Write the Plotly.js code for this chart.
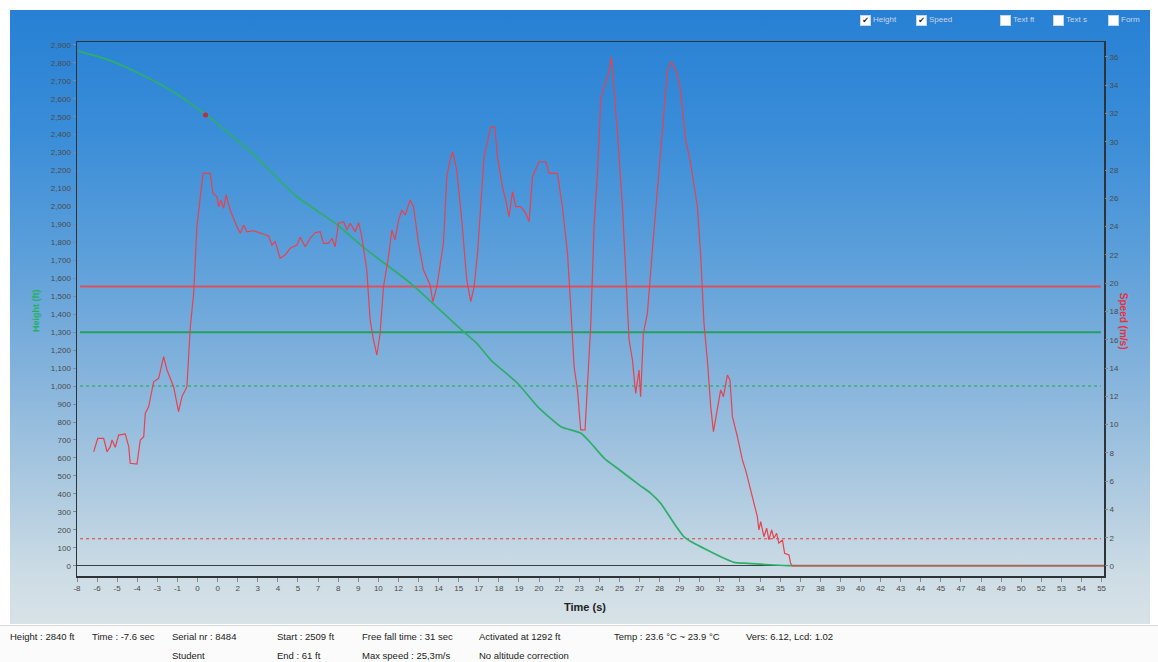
<!DOCTYPE html>
<html>
<head>
<meta charset="utf-8">
<script src="https://cdn.plot.ly/plotly-3.0.1.min.js"></script>
<style>
  html, body { margin:0; padding:0; background:#ffffff; }
  #wrap { position:relative; width:1158px; height:662px; overflow:hidden; background:#ffffff; }
  #grad { position:absolute; left:10px; top:10px; width:1140px; height:614px;
          background: linear-gradient(to bottom, #2780d4 0%, #3a8dd8 20%, #5c9fda 40%, #86b4dc 60%, #adcae0 78%, #cddce5 92%, #d8e2e7 100%); }
  #plot { position:absolute; left:0; top:0; width:1158px; height:662px; }
  .cb { position:absolute; top:15px; width:9px; height:9px; background:#fff; border:1px solid #c9d6e6; font:bold 8px 'DejaVu Sans', sans-serif; line-height:9px; text-align:center; color:#222; }
  .cbl { position:absolute; top:15px; font:8px 'Liberation Sans', Arial, sans-serif; color:#c8d6e8; }
  .st { position:absolute; font:9.5px 'Liberation Sans', Arial, sans-serif; color:#222; white-space:nowrap; }
  #bar { position:absolute; left:0; top:625px; width:1158px; height:37px; background:#fbfbfb; border-top:1px solid #d8d8d8; }
</style>
</head>
<body>
<div id="wrap">
  <div id="grad"></div>
  <div id="plot"></div>
  <div id="bar"></div>
</div>
<script>
// ---- Data ----
// Speed (m/s) vs time (s)
const speedTime = [-6.96,-6.71,-6.34,-6.13,-5.93,-5.82,-5.62,-5.41,-5.00,-4.78,-4.69,-4.27,-4.06,-3.85,-3.75,-3.54,-3.23,-2.92,-2.61,-2.40,-1.99,-1.68,-1.47,-1.16,-0.95,-0.74,-0.54,-0.16,0.29,0.46,0.71,0.81,0.96,1.12,1.28,1.53,1.95,2.16,2.37,2.57,2.99,3.50,3.92,4.13,4.33,4.64,4.95,5.26,5.68,5.89,6.20,6.51,6.82,7.13,7.34,7.65,7.86,8.06,8.27,8.59,8.79,9.00,9.31,9.52,9.72,10.03,10.24,10.45,10.66,10.86,11.07,11.38,11.59,11.79,12.01,12.21,12.42,12.73,12.94,13.25,13.56,13.97,14.14,14.39,14.80,15.01,15.21,15.38,15.63,15.94,16.25,16.50,16.71,16.92,17.33,17.75,18.00,18.16,18.47,18.68,18.88,19.10,19.30,19.61,19.92,20.13,20.34,20.75,21.17,21.37,21.89,22.20,22.52,22.72,22.93,23.14,23.34,23.61,23.76,23.97,24.17,24.38,24.59,24.79,25.00,25.10,25.25,25.38,25.63,25.94,26.14,26.35,26.56,26.76,26.97,27.07,27.24,27.49,27.80,28.11,28.42,28.74,28.98,29.25,29.52,29.87,30.18,30.60,30.81,31.01,31.22,31.43,31.60,31.84,32.05,32.22,32.47,32.63,32.78,33.09,33.40,33.60,33.81,34.12,34.33,34.43,34.54,34.74,34.91,35.05,35.22,35.36,35.53,35.67,35.89,36.03,36.30,36.40,36.51,55.9];
const speedValues = [8.08,9.03,9.03,8.08,8.44,8.91,8.39,9.26,9.34,8.44,7.26,7.21,8.91,9.14,10.80,11.27,13.03,13.27,14.80,13.86,12.68,10.91,11.97,12.68,16.92,19.29,24.0,27.77,27.77,26.36,26.12,25.41,25.88,25.30,26.24,25.18,24.0,23.53,24.12,23.64,23.71,23.53,23.34,22.70,22.94,21.76,21.99,22.47,22.70,23.25,22.58,23.18,23.57,23.64,22.82,22.82,23.18,22.58,24.24,24.35,23.76,24.24,23.64,24.28,23.29,20.93,17.40,15.98,14.92,16.46,19.75,21.87,23.76,23.06,24.47,25.18,24.82,25.88,25.41,22.82,20.93,19.87,18.69,19.75,22.82,27.53,28.71,29.28,28.0,24.47,20.23,18.69,19.75,22.11,28.95,31.07,31.03,28.95,26.82,25.88,24.70,26.47,25.41,25.41,24.94,24.35,27.53,28.59,28.59,27.77,27.77,25.41,22.11,18.34,14.09,12.45,9.62,9.62,12.45,17.16,24.0,27.77,32.96,33.90,34.60,34.84,36.02,34.14,30.60,25.41,20.23,15.98,14.57,12.21,13.86,11.97,16.46,17.87,22.35,26.59,31.31,35.08,35.66,35.08,33.90,30.13,28.48,25.41,21.87,17.16,14.57,11.27,9.50,11.03,12.45,11.97,13.51,13.15,10.56,9.14,7.50,6.79,5.85,4.43,3.49,2.55,3.13,2.07,2.67,1.84,2.55,1.96,2.31,1.61,1.84,0.90,0.78,0.19,0,0];

// Height (ft) vs time (s)
const heightTime = [-7.9,-6.0,-4.0,-2.0,-0.10,1.58,2.99,5.6,8.17,9.83,12.73,16.05,16.88,17.75,19.41,20.66,22.11,23.36,23.98,24.81,25.76,27.00,27.70,28.32,29.15,29.77,30.39,31.22,32.05,32.88,33.71,35.35,36.40,55.9];
const heightValues = [2865,2815,2735,2638,2520,2398,2290,2060,1900,1772,1575,1303,1238,1145,1016,886,774,737,682,598,533,449,403,347,236,161,125,87,50,19,13,4,0,0];

// Start marker
const startTime = [0];
const startHeight = [2509];

// Reference altitude lines (ft)
const redSolidLine = 1555;
const greenSolidLine = 1300;
const greenDottedLine = 1000;
const redDottedLine = 150;

// X tick labels as printed
const xTickText = ["-8","-6","-5","-4","-3","-1","0","0","2","3","4","5","7","8","9","10","12","13","14","15","17","18","19","20","22","23","24","25","27","28","29","30","32","33","34","35","37","38","39","40","42","43","44","45","47","48","49","50","52","53","54","55"];
const xTickStart = -8, xTickStep = 1.25;
const xTickVals = xTickText.map((_, i) => xTickStart + i * xTickStep);

// Status bar texts
const statusItems = [
  ["Height : 2840 ft", 10, 631], ["Time : -7.6 sec", 92, 631],
  ["Serial nr : 8484", 172, 631], ["Student", 172, 650],
  ["Start : 2509 ft", 277, 631], ["End : 61 ft", 277, 650],
  ["Free fall time : 31 sec", 362, 631], ["Max speed : 25,3m/s", 362, 650],
  ["Activated at 1292 ft", 479, 631], ["No altitude correction", 479, 650],
  ["Temp : 23.6 °C ~  23.9 °C", 614, 631], ["Vers: 6.12, Lcd: 1.02", 746, 631]
];
const checkItems = [["Height", true, 860], ["Speed", true, 916], ["Text ft", false, 1000], ["Text s", false, 1053], ["Form", false, 1108]];

// ---- Chart ----
const FONT = 'Liberation Sans, Arial, sans-serif';
const tickFont = {family: FONT, size: 8, color: '#4a4a4a'};

const traces = [
  {x: heightTime, y: heightValues, type: 'scatter', mode: 'lines', yaxis: 'y',
   line: {color: '#2fae6a', width: 1.7, shape: 'spline', smoothing: 0.5}, hoverinfo: 'skip', showlegend: false},
  {x: speedTime, y: speedValues, type: 'scatter', mode: 'lines', yaxis: 'y2',
   line: {color: '#e8424e', width: 1.2}, hoverinfo: 'skip', showlegend: false},
  {x: startTime, y: startHeight, type: 'scatter', mode: 'markers', yaxis: 'y',
   marker: {color: '#b8303a', size: 5}, hoverinfo: 'skip', showlegend: false}
];

function hline(v, color, width, dash) {
  return {type: 'line', xref: 'paper', x0: 0.003, x1: 0.997, yref: 'y', y0: v, y1: v,
          line: {color: color, width: width, dash: dash}, layer: 'below'};
}

const layout = {
  width: 1158, height: 662,
  margin: {l: 77, r: 54, t: 42, b: 86},
  paper_bgcolor: 'rgba(0,0,0,0)', plot_bgcolor: 'rgba(0,0,0,0)',
  showlegend: false,
  xaxis: {range: [-8, 55.9], tickvals: xTickVals, ticktext: xTickText, tickfont: tickFont,
          showgrid: false, zeroline: false, showline: true, mirror: true, linecolor: '#2e3338', linewidth: 1.5,
          ticks: 'outside', ticklen: 4, tickcolor: '#888'},
  yaxis: {range: [-57.3, 2916], dtick: 100, tick0: 0, tickformat: ',d', tickfont: tickFont,
          showgrid: false, zeroline: true, zerolinecolor: '#3a3f44', zerolinewidth: 1.5,
          showline: true, mirror: true, linecolor: '#2e3338', linewidth: 1.5,
          ticks: 'outside', ticklen: 3, tickcolor: '#888'},
  yaxis2: {range: [-0.71, 37.06], dtick: 2, tick0: 0, overlaying: 'y', side: 'right', tickfont: tickFont,
           showgrid: false, zeroline: false, showline: false, ticks: 'outside', ticklen: 3, tickcolor: '#888'},
  shapes: [
    hline(redSolidLine, '#e0505a', 2, 'solid'),
    hline(greenSolidLine, '#22a05c', 2, 'solid'),
    hline(greenDottedLine, '#3db070', 1.5, 'dot'),
    hline(redDottedLine, '#e23a3a', 1.2, 'dot')
  ],
  annotations: [
    {text: '<b>Height (ft)</b>', xref: 'paper', yref: 'paper', x: -0.040, y: 0.498, textangle: -90,
     xanchor: 'center', yanchor: 'middle',
     showarrow: false, font: {family: FONT, size: 9, color: '#1fb35a'}},
    {text: '<b>Speed (m/s)</b>', xref: 'paper', yref: 'paper', x: 1.0185, y: 0.476, textangle: 90,
     xanchor: 'center', yanchor: 'middle',
     showarrow: false, font: {family: FONT, size: 10, color: '#e8303a'}},
    {text: '<b>Time (s)</b>', xref: 'paper', yref: 'paper', x: 0.4947, y: -0.058,
     xanchor: 'center', yanchor: 'middle',
     showarrow: false, font: {family: FONT, size: 11, color: '#222'}}
  ]
};

Plotly.newPlot('plot', traces, layout, {staticPlot: true, displayModeBar: false});

// Status bar and checkboxes (real text)
const wrap = document.getElementById('wrap');
statusItems.forEach(([t, x, y]) => {
  const d = document.createElement('div');
  d.className = 'st'; d.textContent = t; d.style.left = x + 'px'; d.style.top = y + 'px';
  wrap.appendChild(d);
});
checkItems.forEach(([t, on, x]) => {
  const b = document.createElement('div');
  b.className = 'cb'; b.style.left = x + 'px'; b.textContent = on ? '✔' : '';
  wrap.appendChild(b);
  const l = document.createElement('div');
  l.className = 'cbl'; l.style.left = (x + 13) + 'px'; l.textContent = t;
  wrap.appendChild(l);
});
</script>
</body>
</html>
